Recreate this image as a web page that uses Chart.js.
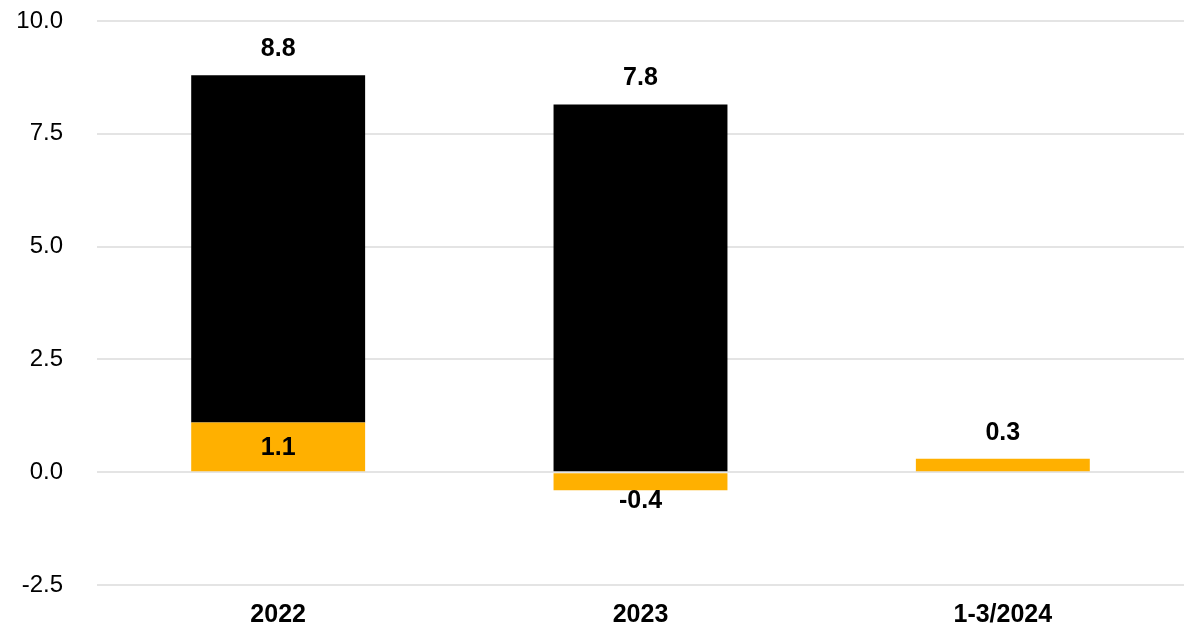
<!DOCTYPE html>
<html>
<head>
<meta charset="utf-8">
<script src="https://cdn.jsdelivr.net/npm/chart.js@4"></script>
<style>
  body { margin: 0; background: #fff; }
</style>
</head>
<body>
<canvas id="myChart" width="1192" height="628"></canvas>
<script>
const labels = ['2022', '2023', '1-3/2024'];

// orange part (bottom of the stack)
const orangeValues = [1.1, -0.4, 0.3];

// black part (stacked on top)
const blackValues = [7.7, 8.15, null];

const yTicks = { min: -2.5, max: 10, step: 2.5 };

Chart.defaults.font.family = '"Liberation Sans", Arial, sans-serif';
Chart.defaults.color = '#000';

// value labels: total above each stack, orange value inside / under its bar
const valueLabels = {
  id: 'valueLabels',
  afterDatasetsDraw(chart) {
    const ctx = chart.ctx;
    const orangeMeta = chart.getDatasetMeta(0);
    const blackMeta = chart.getDatasetMeta(1);
    ctx.save();
    ctx.font = 'bold 25px "Liberation Sans", Arial, sans-serif';
    ctx.fillStyle = '#000';
    ctx.textAlign = 'center';
    ctx.textBaseline = 'middle';

    labels.forEach((lab, i) => {
      const o = orangeValues[i];
      const b = blackValues[i];
      const total = Math.round(((o || 0) + (b || 0)) * 10 + 1e-6) / 10;

      // total on top of the highest bar
      const topBar = b != null ? blackMeta.data[i] : orangeMeta.data[i];
      ctx.fillText(total.toFixed(1), topBar.x, topBar.y - 26);

      // orange value, only when it is not the whole stack
      if (b != null && o != null) {
        const bar = orangeMeta.data[i];
        if (o >= 0) {
          ctx.fillText(o.toFixed(1), bar.x, (bar.y + bar.base) / 2 + 1);
        } else {
          ctx.fillText(o.toFixed(1), bar.x, bar.y + 11);
        }
      }
    });
    ctx.restore();
  }
};

const data = {
  labels: labels,
  datasets: [
    {
      label: 'Orange',
      backgroundColor: '#FFB000',
      data: orangeValues,
    },
    {
      label: 'Black',
      backgroundColor: '#000000',
      data: blackValues,
    }
  ]
};

const config = {
  type: 'bar',
  data: data,
  options: {
    responsive: false,
    animation: false,
    categoryPercentage: 1,
    barPercentage: 0.48,
    layout: {
      padding: { left: 16, right: 8, top: 21, bottom: 0 }
    },
    plugins: {
      legend: { display: false },
      tooltip: { enabled: false }
    },
    scales: {
      x: {
        stacked: true,
        grid: { display: false, drawTicks: false },
        border: { display: false },
        afterFit: (scale) => { scale.height = 43; },
        ticks: {
          padding: 15,
          color: '#000',
          font: { size: 25, weight: 'bold' }
        }
      },
      y: {
        stacked: true,
        min: yTicks.min,
        max: yTicks.max,
        grid: { color: '#e4e4e4', lineWidth: 2, drawTicks: false },
        border: { display: false },
        afterFit: (scale) => {
          scale.width = 81;
          scale.paddingTop = 10;
          scale.paddingBottom = 10;
        },
        ticks: {
          stepSize: yTicks.step,
          padding: 34,
          color: '#000',
          font: { size: 24 },
          callback: (v) => v.toFixed(1)
        }
      }
    }
  },
  plugins: [valueLabels]
};

const myChart = new Chart(
  document.getElementById('myChart'),
  config
);
</script>
</body>
</html>
